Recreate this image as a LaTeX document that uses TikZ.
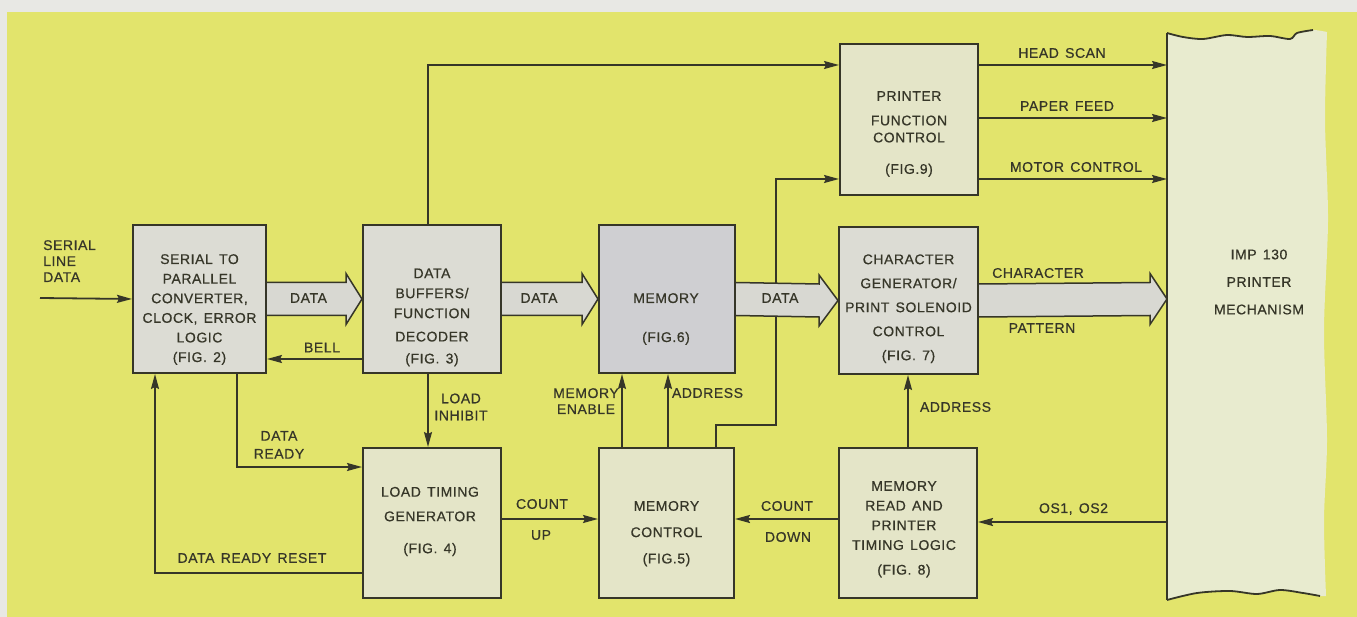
\documentclass[tikz,border=0pt]{standalone}
\usepackage{fontspec}
\setmainfont{Liberation Sans}[LetterSpace=4,WordSpace=1.4,FakeBold=0.6]
\usetikzlibrary{arrows.meta,calc}
\definecolor{page}{HTML}{E8E8E4}
\definecolor{yel}{HTML}{E2E46C}
\definecolor{ink}{HTML}{363628}
\definecolor{boxg}{HTML}{DCDCD4}
\definecolor{boxp}{HTML}{E4E5C8}
\definecolor{memg}{HTML}{CFCFD2}
\definecolor{fatg}{HTML}{D8D8D2}
\definecolor{mechf}{HTML}{E8EBCF}
\newcommand\fsz[1]{\fontsize{14}{#1}\selectfont}
\newcommand\fatarr[3]{%
  \filldraw[fat] ($(#1)+(0,-16.5)$) -- ($(#2)+(-#3,-16.5)$) -- ($(#2)+(-#3,-25.5)$)
    -- (#2) -- ($(#2)+(-#3,25.5)$) -- ($(#2)+(-#3,16.5)$) -- ($(#1)+(0,16.5)$);}
\begin{document}
\begin{tikzpicture}[x=1pt,y=-1pt,
  box/.style={draw=ink, line width=2pt, inner sep=0pt},
  txt/.style={text=ink, inner sep=0pt, align=center, font=\fsz{17}},
  arr/.style={draw=ink, line width=1.8pt, -{Stealth[length=15pt,width=8pt,inset=2pt]}},
  fat/.style={draw=ink, line width=1.5pt, fill=fatg, line join=miter}]
\useasboundingbox (0,0) rectangle (1357,617);
\fill[page] (0,0) rectangle (1357,617);
\fill[yel] (7,12) rectangle (1357,617);

% printer mechanism
\fill[mechf] plot[smooth] coordinates {(1167,33) (1183,37) (1203,39) (1227,35) (1247,37) (1270,36) (1290,39) (1297,33) (1313,30) (1327,32)}
  -- plot[smooth] coordinates {(1327,32) (1325,120) (1328,220) (1324,330) (1327,440) (1324,520) (1326,596)}
  -- plot[smooth] coordinates {(1326,596) (1320,596) (1303,593) (1280,590) (1257,594) (1230,591) (1197,593) (1167,600)} -- cycle;
\draw[ink, line width=1.8pt] plot[smooth] coordinates {(1167,33) (1183,37) (1203,39) (1227,35) (1247,37) (1270,36) (1290,39) (1297,33) (1313,30)};
\draw[ink, line width=1.8pt] plot[smooth] coordinates {(1167,600) (1197,593) (1230,591) (1257,594) (1280,590) (1303,593) (1320,596)};
\draw[ink, line width=1.8pt] (1167,33) -- (1167,600);
\node[txt, font=\fsz{27.5}] (mech) at (1259,282) {IMP 130\\PRINTER\\MECHANISM};

% boxes
\node[box, fill=boxg, minimum width=133pt, minimum height=148pt] (b1) at (199.5,299) {};
\node[box, fill=boxg, minimum width=138pt, minimum height=148pt] (b2) at (432,299) {};
\node[box, fill=memg, minimum width=136pt, minimum height=148pt] (mem) at (667,299) {};
\node[box, fill=boxg, minimum width=139pt, minimum height=147pt] (cg) at (908.5,300.5) {};
\node[box, fill=boxp, minimum width=138pt, minimum height=151pt] (pfc) at (909,119.5) {};
\node[box, fill=boxp, minimum width=138pt, minimum height=150pt] (lt) at (432,523) {};
\node[box, fill=boxp, minimum width=135pt, minimum height=150pt] (mc) at (666.5,523) {};
\node[box, fill=boxp, minimum width=138pt, minimum height=150pt] (mr) at (908,523) {};

% box texts
\node[txt, anchor=north, font=\fsz{19.6}] (b1t) at (199.5,254) {SERIAL TO\\PARALLEL\\CONVERTER,\\CLOCK, ERROR\\LOGIC\\(FIG. 2)};
\node[txt, anchor=north, font=\fsz{20}] (b2t) at (432,268.3) {DATA\\BUFFERS/\\FUNCTION\\[3.3pt]DECODER\\[2pt](FIG. 3)};
\node[txt, anchor=north, font=\fsz{20}] (memt) at (666,293) {MEMORY\\[19pt](FIG.6)};
\node[txt, anchor=north, font=\fsz{24}] (cgt) at (908.5,254.2) {CHARACTER\\GENERATOR/\\PRINT SOLENOID\\CONTROL\\(FIG. 7)};
\node[txt, anchor=north, font=\fsz{17}] (pfct) at (909,91) {PRINTER\\[7.5pt]FUNCTION\\CONTROL\\[14.5pt](FIG.9)};
\node[txt, anchor=north, font=\fsz{24.5}] (ltt) at (430,486.7) {LOAD TIMING\\GENERATOR\\[7.5pt](FIG. 4)};
\node[txt, anchor=north, font=\fsz{26.3}] (mct) at (666.5,500.8) {MEMORY\\CONTROL\\(FIG.5)};
\node[txt, anchor=north, font=\fsz{19.7}] (mrt) at (904,480.8) {MEMORY\\READ AND\\PRINTER\\TIMING LOGIC\\[5pt](FIG. 8)};

% helper coordinates
\coordinate (sld) at (40,298);
\coordinate (bell) at (0,359);
\coordinate (hsy) at (0,65);
\coordinate (jog) at (776,425);
\coordinate (mty) at (0,179);
\coordinate (dry) at (0,467);
\coordinate (mechin) at (1167,299);
\coordinate (hs1) at (1167,65);
\coordinate (pf1) at (1167,118);
\coordinate (mt1) at (1167,179);
\coordinate (os0) at (1167,522);

% connectors
\draw[arr] (sld) -- (b1.west);
\draw[arr] (b2.west |- bell) -- (b1.east |- bell);
\draw[arr] ($(b2.north)+(-4,0)$) |- (pfc.west |- hsy);
\draw[arr] ($(mc.north)+(49.5,0)$) |- (jog) |- (pfc.west |- mty);
\draw[arr] ($(mc.north)+(-44.5,0)$) coordinate (me0) -- (me0 |- mem.south);
\draw[arr] ($(mc.north)+(1.5,0)$) coordinate (ad0) -- (ad0 |- mem.south);
\draw[arr] (mr.north) -- (mr.north |- cg.south);
\draw[arr] ($(b2.south)+(-4,0)$) coordinate (li0) -- (li0 |- lt.north);
\draw[arr] ($(b1.south)+(37.5,0)$) |- (lt.west |- dry);
\draw[arr] ($(lt.west)+(0,50)$) -| ($(b1.south)+(-44.5,0)$);
\draw[arr] ($(lt.east)+(0,-4)$) coordinate (cu0) -- (cu0 -| mc.west);
\draw[arr] ($(mr.west)+(0,-4)$) coordinate (cd0) -- (cd0 -| mc.east);
\draw[arr] (os0) -- (os0 -| mr.east);
\draw[arr] (pfc.east |- hs1) -- (hs1);
\draw[arr] (pfc.east |- pf1) -- (pf1);
\draw[arr] (pfc.east |- mt1) -- (mt1);

% fat arrows
\fatarr{b1.east}{b2.west}{16}
\fatarr{b2.east}{mem.west}{16}
\fatarr{mem.east}{cg.west}{19}
\fatarr{cg.east}{mechin}{17}

% labels
\node[txt, anchor=north west, align=left, font=\fsz{16}] (lsld) at (43,240) {SERIAL\\LINE\\DATA};
\node[txt] (ld1) at (308.5,298) {DATA};
\node[txt] (ld2) at (539,298) {DATA};
\node[txt] (ld3) at (780,298) {DATA};
\node[txt] (lbell) at (322,347.5) {BELL};
\node[txt] (lchar) at (1038,273) {CHARACTER};
\node[txt] (lpat) at (1042,328) {PATTERN};
\node[txt] (lhs) at (1062,53) {HEAD SCAN};
\node[txt] (lpf) at (1067,106) {PAPER FEED};
\node[txt] (lmt) at (1076,167) {MOTOR CONTROL};
\node[txt, anchor=north, font=\fsz{17}] (lli) at (461,393.3) {LOAD\\INHIBIT};
\node[txt, anchor=north, font=\fsz{18}] (ldr) at (279,430.8) {DATA\\READY};
\node[txt] (ldrr) at (252,558) {DATA READY RESET};
\node[txt, anchor=north, font=\fsz{16}] (lme) at (586,388) {MEMORY\\ENABLE};
\node[txt] (lad1) at (707.5,393) {ADDRESS};
\node[txt] (lad2) at (955.5,407) {ADDRESS};
\node[txt] (lcu1) at (542,504) {COUNT};
\node[txt] (lcu2) at (541,535) {UP};
\node[txt] (lcd1) at (787,506) {COUNT};
\node[txt] (lcd2) at (788,537) {DOWN};
\node[txt] (los) at (1073.5,509) {OS1, OS2};
\end{tikzpicture}
\end{document}
